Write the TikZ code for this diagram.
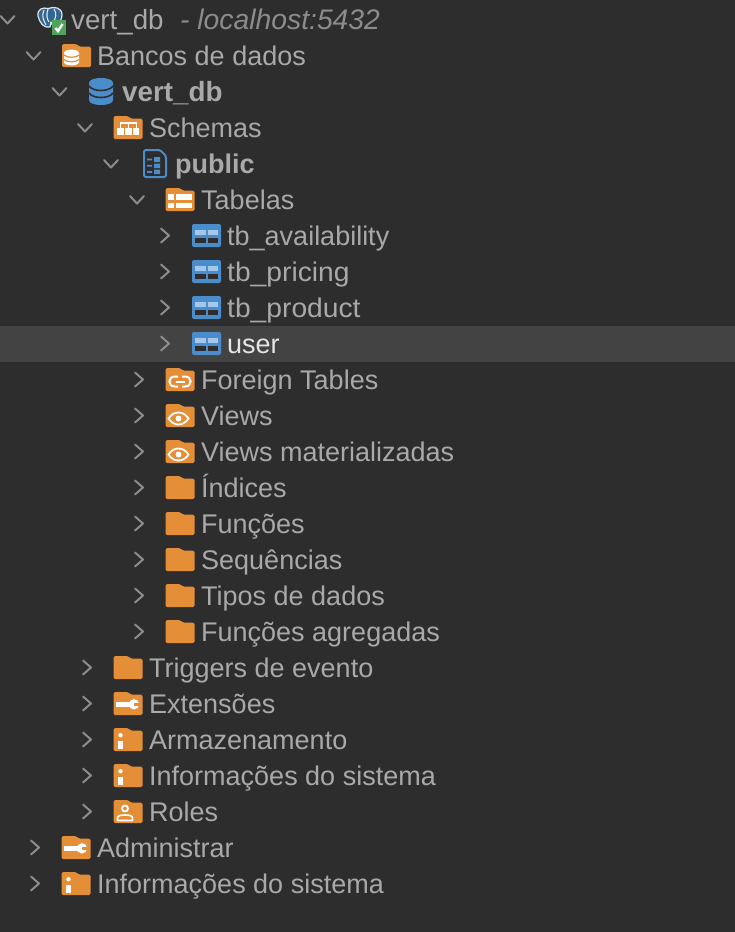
\documentclass[tikz,border=0pt]{standalone}
\usepackage{fontspec}
\setmainfont{Liberation Sans}
\definecolor{bgc}{HTML}{2D2D2D}
\definecolor{rowc}{HTML}{434343}
\definecolor{txtc}{HTML}{A9A9A9}
\definecolor{dimc}{HTML}{8C8C8C}
\definecolor{orc}{HTML}{E48E38}
\definecolor{blc}{HTML}{4B8CCB}
\definecolor{lbc}{HTML}{A3C8EC}
\definecolor{grc}{HTML}{4FA35A}
\definecolor{pgc}{HTML}{336791}
\definecolor{pgl}{HTML}{DCE4EC}
\tikzset{
  lab/.style={anchor=base west,inner sep=0pt,text=txtc,font=\fontsize{27}{32}\selectfont},
  labw/.style={lab,font=\fontsize{27}{32}\selectfont\addfontfeature{FakeStretch=1.045}},
  bold/.style={lab,font=\fontsize{27}{32}\selectfont\bfseries},
  chev/.style={draw=dimc,line width=2pt,line cap=round,line join=round},
  wh/.style={fill=white,draw=none},
  whl/.style={draw=white,line width=1.8pt},
}
\newcommand{\chd}[2]{\draw[chev] (#1-7,#2-4) -- (#1,#2+3.5) -- (#1+7,#2-4);}
\newcommand{\chr}[2]{\draw[chev] (#1-4,#2-7) -- (#1+4,#2) -- (#1-4,#2+7);}
\newcommand{\fold}[3]{\begin{scope}[shift={(#1,#2)}]
  \fill[orc,rounded corners=1.5pt] (-14.5,-12) -- (0,-12) -- (3,-9.3) -- (14.5,-9.3) -- (14.5,11) -- (-14.5,11) -- cycle;
  #3
\end{scope}}
\newcommand{\tabl}[2]{\begin{scope}[shift={(#1,#2)}]
  \fill[blc,rounded corners=2pt] (-14.5,-11.5) rectangle (14.5,11.5);
  \fill[lbc] (-11.5,-6) rectangle (-1,-1);\fill[lbc] (1,-6) rectangle (11.5,-1);
  \fill[bgc] (-11.5,2.5) rectangle (-1,7.5);\fill[bgc] (1,2.5) rectangle (11.5,7.5);
\end{scope}}
\newcommand{\ovinfo}{\fill[wh] (-7.5,-4.8) circle (2.2);\fill[wh] (-9.7,.7) rectangle (-5.3,9.3);}
\newcommand{\ovwrench}{\fill[wh] (-12,-2) rectangle (2,3);
  \fill[wh] (6,.3) circle (5.2);
  \fill[orc] (6,-1.5) rectangle (13,2.2);}
\newcommand{\oveye}{\begin{scope}[shift={(-1.5,0)}]\draw[whl] (-10,2.5) .. controls (-5,-5.5) and (5,-5.5) .. (10,2.5) .. controls (5,10.5) and (-5,10.5) .. (-10,2.5) -- cycle;\fill[wh] (0,2.5) circle (3);\end{scope}}
\begin{document}
\begin{tikzpicture}[x=1pt,y=-1pt]
\fill[bgc] (0,0) rectangle (735,932);
\useasboundingbox (0,0) rectangle (735,932);
\fill[rowc] (0,326) rectangle (735,362);
% row 0
\chd{7.5}{20}
\begin{scope}[shift={(50,20)}]
  \fill[pgc,draw=pgl,line width=1.2pt,line join=round] (-12,-4) .. controls (-13,-11) and (-7,-13) .. (-2,-11.5) .. controls (4,-13.5) and (12,-13) .. (12,-5) .. controls (12,0) and (9,3) .. (6,5) -- (3,6) -- (1,2) -- (0,7) .. controls (-7,8) and (-10,3) .. (-12,-4) -- cycle;
  \draw[pgl,line width=1.1pt] (-6,-10) .. controls (-9,-4) and (-6,1) .. (-4,5) (-2,-11) .. controls (-4,-5) and (-3,-1) .. (-1,2) (4,-11) .. controls (7,-7) and (6,-2) .. (3,3);
  \fill[grc] (2,0) rectangle (16,15);
  \draw[white,line width=2.4pt] (5.5,8) -- (8,11) -- (12.5,4);
\end{scope}
\node[lab,font=\fontsize{27.7}{32}\selectfont] (n0) at (71,29.5) {vert\_db};
\node[lab,text=dimc,font=\fontsize{28.3}{32}\selectfont\itshape] (n0b) at (180,29.5) {- localhost:5432};
% row 1
\chd{33.5}{56}
\fold{76.5}{56}{\begin{scope}[shift={(-5,0)}]
  \fill[wh] (-7.5,-3) .. controls (-7.5,-7.5) and (7.5,-7.5) .. (7.5,-3) -- (7.5,6) .. controls (7.5,10.5) and (-7.5,10.5) .. (-7.5,6) -- cycle;
  \draw[orc,line width=1.2pt] (-7.5,-1) .. controls (-5,2) and (5,2) .. (7.5,-1) (-7.5,3.5) .. controls (-5,6.5) and (5,6.5) .. (7.5,3.5);
\end{scope}}
\node[lab] (n1) at (97,65.5) {Bancos de dados};
% row 2
\chd{59.5}{92}
\begin{scope}[shift={(101,92)}]
  \fill[blc] (-12,-9) .. controls (-12,-15.7) and (12,-15.7) .. (12,-9) -- (12,8) .. controls (12,14.7) and (-12,14.7) .. (-12,8) -- cycle;
  \draw[bgc,line width=1.6pt] (-12,-6) .. controls (-8,0) and (8,0) .. (12,-6) (-12,1) .. controls (-8,7) and (8,7) .. (12,1);
\end{scope}
\node[bold,font=\fontsize{27.8}{32}\selectfont\bfseries] (n2) at (122,101.5) {vert\_db};
% row 3
\chd{85}{128}
\fold{128}{128}{\fill[wh] (-10.7,0) rectangle (-4,7);\fill[wh] (-3,0) rectangle (3.7,7);\fill[wh] (5.3,0) rectangle (11.3,7);\draw[white,line width=1.2pt] (-8,-5) -- (9,-5) (-7.5,-5) -- (-7.5,0) (.3,-5) -- (.3,0) (8.5,-5) -- (8.5,0);}
\node[lab] (n3) at (149,137.5) {Schemas};
% row 4
\chd{111}{164}
\begin{scope}[shift={(155,164)}]
  \draw[blc,line width=2pt,line join=round,rounded corners=1.5pt] (-11,-14) -- (5,-14) -- (11,-8) -- (11,13) -- (-11,13) -- cycle;
  \fill[blc] (-8,-5.5) rectangle (-3,-3.7) (-8,.8) rectangle (-3,2.6) (-8,7.1) rectangle (-3,8.9);
  \fill[blc] (-1,-7) rectangle (5,-2) (-1,-.5) rectangle (5,4) (-1,5.5) rectangle (5,10);
\end{scope}
\node[bold] (n4) at (175,173.5) {public};
% row 5
\chd{137}{200}
\fold{180}{200}{\fill[wh] (-12,-6) rectangle (-6,0);\fill[wh] (-4,-6) rectangle (12,0);\fill[wh] (-12,3) rectangle (-6,8);\fill[wh] (-4,3) rectangle (12,8);}
\node[lab] (n5) at (201,209.5) {Tabelas};
% tables
\chr{165}{235.5}\tabl{206.5}{235.5}
\node[lab] (t1) at (227,245.5) {tb\_availability};
\chr{165}{271.5}\tabl{206.5}{271.5}
\node[labw] (t2) at (227,281.5) {tb\_pricing};
\chr{165}{307.5}\tabl{206.5}{307.5}
\node[labw] (t3) at (227,317.5) {tb\_product};
\chr{165}{343.5}\tabl{206.5}{343.5}
\node[lab,text=white!90!black] (t4) at (227,353.5) {user};
% level 5 folders
\chr{139}{379.5}
\fold{180}{380}{\draw[white,line width=2pt] (-2,-3.5) -- (-5,-3.5) .. controls (-12.5,-3.5) and (-12.5,6.5) .. (-5,6.5) -- (-2,6.5) (2,-3.5) -- (5,-3.5) .. controls (12.5,-3.5) and (12.5,6.5) .. (5,6.5) -- (2,6.5);\draw[white,line width=2pt] (-4.5,1.5) -- (4.5,1.5);}
\node[lab] (a1) at (201,389.5) {Foreign Tables};
\chr{139}{415.5}
\fold{180}{416}{\oveye}
\node[lab] (a2) at (201,425.5) {Views};
\chr{139}{451.5}
\fold{180}{452}{\oveye}
\node[lab] (a3) at (201,461.5) {Views materializadas};
\chr{139}{487.5}
\fold{180}{488}{}
\node[lab] (a4) at (201,497.5) {Índices};
\chr{139}{523.5}
\fold{180}{524}{}
\node[lab] (a5) at (201,533.5) {Funções};
\chr{139}{559.5}
\fold{180}{560}{}
\node[lab] (a6) at (201,569.5) {Sequências};
\chr{139}{595.5}
\fold{180}{596}{}
\node[lab] (a7) at (201,605.5) {Tipos de dados};
\chr{139}{631.5}
\fold{180}{632}{}
\node[lab] (a8) at (201,641.5) {Funções agregadas};
% level 3 folders
\chr{87}{667.5}
\fold{128}{668}{}
\node[lab] (b1) at (149,677.5) {Triggers de evento};
\chr{87}{703.5}
\fold{128}{704}{\ovwrench}
\node[lab] (b2) at (149,713.5) {Extensões};
\chr{87}{739.5}
\fold{128}{740}{\ovinfo}
\node[lab] (b3) at (149,749.5) {Armazenamento};
\chr{87}{775.5}
\fold{128}{776}{\ovinfo}
\node[lab] (b4) at (149,785.5) {Informações do sistema};
\chr{87}{811.5}
\fold{128}{812}{\begin{scope}[shift={(-3,0)}]\draw[whl] (0,-3.5) circle (3);\draw[white,line width=1.6pt,line join=round] (-7.5,8.5) -- (-7.5,6) .. controls (-7.5,3.5) and (-4,3) .. (0,3) .. controls (4,3) and (7.5,3.5) .. (7.5,6) -- (7.5,8.5) -- cycle;\end{scope}}
\node[lab] (b5) at (149,821.5) {Roles};
% level 1
\chr{35}{847.5}
\fold{76}{848}{\ovwrench}
\node[lab] (c1) at (97,857.5) {Administrar};
\chr{35}{883.5}
\fold{76}{884}{\ovinfo}
\node[lab] (c2) at (97,893.5) {Informações do sistema};
\end{tikzpicture}
\end{document}
